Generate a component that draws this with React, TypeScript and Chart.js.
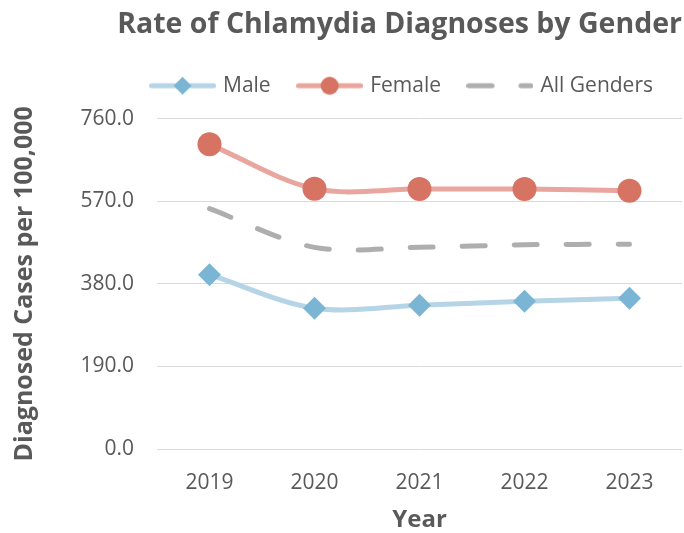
import React, { useEffect, useRef } from 'react';
import { Chart, registerables } from 'chart.js';

Chart.register(...registerables);

const years = ['2019', '2020', '2021', '2022', '2023'];
const maleRates = [401, 324, 331, 340, 347];
const femaleRates = [701, 599, 598, 598, 594];
const allGenderRates = [553, 464, 464, 470, 471];
const yTickValues = [0, 190, 380, 570, 760];
const seriesNames = ['Male', 'Female', 'All Genders'];

const TEXT = '#595959';
const MALE_LINE = '#B5D4E6';
const MALE_MARK = '#7BB5D4';
const FEMALE_LINE = '#E8A69E';
const FEMALE_MARK = '#D67363';
const ALL_LINE = '#AEAEAE';
const FONT = "'Open Sans', 'DejaVu Sans', sans-serif";

function makeSymbol(kind: 'diamond' | 'circle' | 'dash'): HTMLCanvasElement {
  const c = document.createElement('canvas');
  c.width = 67;
  c.height = 22;
  const g = c.getContext('2d') as CanvasRenderingContext2D;
  g.lineWidth = 5;
  g.lineCap = 'round';
  const cy = 11;
  if (kind === 'dash') {
    g.strokeStyle = ALL_LINE;
    g.setLineDash([23, 29]);
    g.beginPath();
    g.moveTo(2.5, cy);
    g.lineTo(64.5, cy);
    g.stroke();
    return c;
  }
  g.strokeStyle = kind === 'diamond' ? MALE_LINE : FEMALE_LINE;
  g.beginPath();
  g.moveTo(2.5, cy);
  g.lineTo(64.5, cy);
  g.stroke();
  g.fillStyle = kind === 'diamond' ? MALE_MARK : FEMALE_MARK;
  g.beginPath();
  if (kind === 'diamond') {
    const r = 9;
    g.moveTo(33.5 - r, cy);
    g.lineTo(33.5, cy - r);
    g.lineTo(33.5 + r, cy);
    g.lineTo(33.5, cy + r);
    g.closePath();
  } else {
    g.arc(33.5, cy, 9, 0, Math.PI * 2);
  }
  g.fill();
  return c;
}

const legendGap = {
  id: 'legendGap',
  beforeLayout(chart: any) {
    const lg = chart.legend;
    if (lg && !lg.__patched) {
      const orig = lg.fit;
      lg.fit = function () {
        orig.call(this);
        this.height += 12.5;
      };
      lg.__patched = true;
    }
  },
};

export default function App() {
  const ref = useRef<HTMLCanvasElement | null>(null);

  useEffect(() => {
    if (!ref.current) return;
    const symbols = [makeSymbol('diamond'), makeSymbol('circle'), makeSymbol('dash')];
    const chart = new Chart(ref.current, {
      type: 'line',
      data: {
        labels: years,
        datasets: [
          {
            label: seriesNames[0],
            data: maleRates,
            borderColor: MALE_LINE,
            borderWidth: 5,
            tension: 0.33,
            fill: false,
            pointStyle: 'rectRot',
            pointRadius: 11.5,
            pointBackgroundColor: MALE_MARK,
            pointBorderColor: MALE_MARK,
            pointBorderWidth: 0,
          },
          {
            label: seriesNames[1],
            data: femaleRates,
            borderColor: FEMALE_LINE,
            borderWidth: 5,
            tension: 0.33,
            fill: false,
            pointStyle: 'circle',
            pointRadius: 12,
            pointBackgroundColor: FEMALE_MARK,
            pointBorderColor: FEMALE_MARK,
            pointBorderWidth: 0,
          },
          {
            label: seriesNames[2],
            data: allGenderRates,
            borderColor: ALL_LINE,
            borderWidth: 5,
            borderDash: [23, 29],
            borderCapStyle: 'round',
            tension: 0.33,
            fill: false,
            pointRadius: 0,
          },
        ],
      },
      options: {
        responsive: true,
        maintainAspectRatio: false,
        animation: false,
        clip: false,
        layout: { autoPadding: false, padding: { top: 0, right: 2, bottom: 0, left: 0 } },
        plugins: {
          tooltip: { enabled: false },
          title: {
            display: true,
            text: 'Rate of Chlamydia Diagnoses by Gender',
            align: 'end',
            color: TEXT,
            font: { family: FONT, size: 28.5, weight: 'bold' },
            padding: { top: 8, bottom: 4 },
          },
          legend: {
            display: true,
            position: 'top',
            align: 'end',
            labels: {
              usePointStyle: true,
              pointStyleWidth: 60,
              padding: 29,
              color: TEXT,
              font: { family: FONT, size: 21 },
              generateLabels: (c: any) =>
                (Chart.defaults.plugins.legend.labels.generateLabels as any)(c).map(
                  (item: any, i: number) => ({ ...item, pointStyle: symbols[i] })
                ),
            },
          },
        },
        scales: {
          x: {
            offset: true,
            grid: { display: false },
            border: { display: false },
            ticks: {
              color: TEXT,
              font: { family: FONT, size: 21 },
              padding: 13,
            },
            title: {
              display: true,
              text: 'Year',
              color: TEXT,
              font: { family: FONT, size: 24, weight: 'bold', lineHeight: 1.05 },
              padding: { top: 0, bottom: 0 },
            },
            afterFit: (s: any) => {
              s.height = 84;
              s.paddingLeft = 0;
              s.paddingRight = 0;
            },
          },
          y: {
            min: yTickValues[0],
            max: yTickValues[yTickValues.length - 1],
            grid: { color: '#D9D9D9', lineWidth: 1, drawTicks: false },
            border: { display: false },
            ticks: {
              stepSize: yTickValues[1] - yTickValues[0],
              color: TEXT,
              font: { family: FONT, size: 21 },
              padding: 23,
              callback: (v: any) => Number(v).toFixed(1),
            },
            title: {
              display: true,
              text: 'Diagnosed Cases per 100,000',
              color: TEXT,
              font: { family: FONT, size: 25, weight: 'bold' },
              padding: { top: 10, bottom: 0 },
            },
            afterFit: (s: any) => {
              s.width = 157;
            },
          },
        },
      },
      plugins: [legendGap],
    } as any);
    return () => chart.destroy();
  }, []);

  return (
    <div style={{ position: 'fixed', left: 0, top: 0, width: 684, height: 533, background: '#fff' }}>
      <canvas ref={ref} />
    </div>
  );
}
